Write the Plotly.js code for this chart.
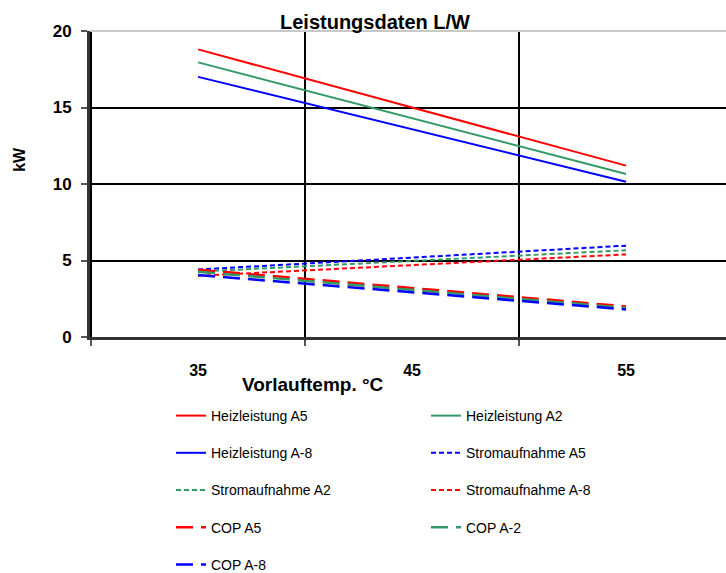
<!DOCTYPE html>
<html>
<head>
<meta charset="utf-8">
<script src="https://cdn.plot.ly/plotly-3.0.1.min.js"></script>
<style>html,body{margin:0;padding:0;background:#fff;}#chart{width:726px;height:573px;}</style>
</head>
<body>
<div id="chart"></div>
<script>
// Data
const temps = [35, 45, 55];
const heizA5 = [18.8, 15.0, 11.2];
const heizA2 = [17.95, 14.3, 10.65];
const heizAm8 = [17.0, 13.6, 10.15];
const stromA5 = [4.41, 5.19, 5.97];
const stromA2 = [4.27, 4.97, 5.67];
const stromAm8 = [4.0, 4.7, 5.4];
const copA5 = [4.4, 3.2, 2.0];
const copA2 = [4.26, 3.08, 1.9];
const copAm8 = [4.05, 2.93, 1.8];
const xTicks = [35, 45, 55];
const yTicks = [0, 5, 10, 15, 20];

const RED = '#ff0000', GREEN = '#339966', BLUE = '#0000ff';
const DOT = '5px,3px', DASH = '17px,8px';
const font = "'Liberation Sans Narrow', 'Arial Narrow', 'Liberation Sans', Arial, sans-serif";

function tr(name, y, color, dash, width, legend, grp) {
  return {x: temps, y: y, name: name, type: 'scatter', mode: 'lines',
    line: {color: color, dash: dash, width: width}, legend: legend, legendgroup: grp};
}

const data = [
  tr('Heizleistung A5', heizA5, RED, 'solid', 2, 'legend', 'g1'),
  tr('Heizleistung A2', heizA2, GREEN, 'solid', 2, 'legend2', 'g2'),
  tr('Heizleistung A-8', heizAm8, BLUE, 'solid', 2, 'legend', 'g3'),
  tr('Stromaufnahme A5', stromA5, BLUE, DOT, 2, 'legend2', 'g4'),
  tr('Stromaufnahme A2', stromA2, GREEN, DOT, 2, 'legend', 'g5'),
  tr('Stromaufnahme A-8', stromAm8, RED, DOT, 2, 'legend2', 'g6'),
  tr('COP A5', copA5, RED, DASH, 2.5, 'legend', 'g7'),
  tr('COP A-2', copA2, GREEN, DASH, 2.5, 'legend2', 'g8'),
  tr('COP A-8', copAm8, BLUE, DASH, 2.5, 'legend', 'g9')
];

const legendCommon = {
  orientation: 'v', xref: 'container', yref: 'container', xanchor: 'left', yanchor: 'top',
  font: {family: font, size: 14, color: '#000'}, tracegroupgap: 16, bgcolor: 'rgba(0,0,0,0)',
  traceorder: 'grouped'
};

const layout = {
  width: 726, height: 573,
  margin: {l: 90, r: 0, t: 31, b: 235.5, autoexpand: false},
  paper_bgcolor: '#fff', plot_bgcolor: '#fff',
  font: {family: font, color: '#000'},
  title: {text: '<b>Leistungsdaten L/W</b>', font: {family: font, size: 20, color: '#000'},
          xref: 'container', yref: 'container',
          x: 375 / 726, xanchor: 'center', y: 1 - 22 / 573, yanchor: 'middle'},
  xaxis: {
    range: [29.95, 59.67], tickmode: 'array', tickvals: xTicks, ticktext: xTicks.map(String),
    ticks: '', showgrid: false, zeroline: false,
    showline: true, linecolor: '#333', linewidth: 3,
    tickfont: {family: font, size: 16, color: '#000', weight: 'bold'},
    ticklabelstandoff: 17,
    minor: {tick0: 30, dtick: 10, showgrid: true, gridcolor: '#000', gridwidth: 2,
            ticks: 'outside', ticklen: 6, tickcolor: '#555', tickwidth: 2}
  },
  yaxis: {
    range: [0, 20], tickmode: 'array', tickvals: yTicks,
    showgrid: true, gridcolor: '#000', gridwidth: 2, zeroline: false,
    showline: true, linecolor: '#333', linewidth: 3,
    ticks: 'outside', ticklen: 6, tickcolor: '#555', tickwidth: 2,
    tickfont: {family: font, size: 17, color: '#000', weight: 'bold'},
    ticklabelstandoff: 6
  },
  shapes: [{type: 'line', xref: 'paper', yref: 'paper', x0: 0, x1: 1, y0: 1, y1: 1,
            line: {color: '#c8c8c8', width: 2}, layer: 'above'}],
  annotations: [
    {text: '<b>Vorlauftemp. °C</b>', xref: 'paper', yref: 'paper',
     x: (313 - 90) / 636, y: -(385 - 337.5) / 306.5, xanchor: 'center', yanchor: 'middle',
     showarrow: false, font: {family: font, size: 19, color: '#000'}},
    {text: '<b>kW</b>', xref: 'paper', yref: 'paper', textangle: -90,
     x: (20 - 90) / 636, y: (337.5 - 160) / 306.5, xanchor: 'center', yanchor: 'middle',
     showarrow: false, font: {family: font, size: 16, color: '#000'}}
  ],
  showlegend: true,
  legend: Object.assign({}, legendCommon, {x: 171 / 726, y: 1 - 400 / 573}),
  legend2: Object.assign({}, legendCommon, {x: 426 / 726, y: 1 - 400 / 573})
};

Plotly.newPlot('chart', data, layout, {displayModeBar: false, staticPlot: true});
</script>
</body>
</html>
